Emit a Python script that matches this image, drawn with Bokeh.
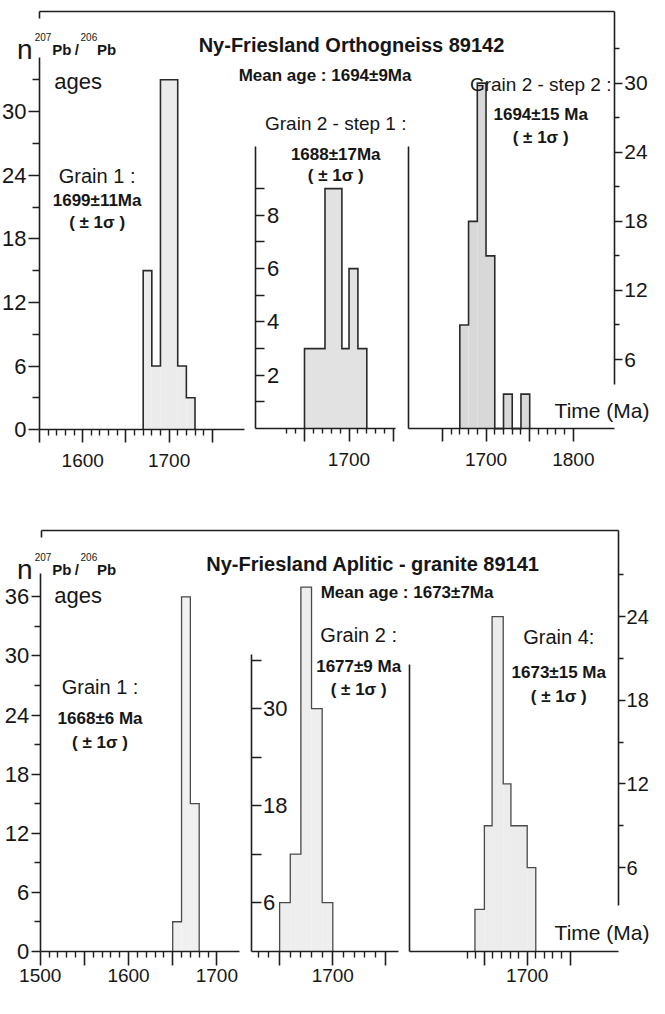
from bokeh.plotting import figure
from bokeh.models import Range1d, LinearAxis, FixedTicker, Label
from bokeh.embed import file_html
from bokeh.resources import INLINE

# ===================== data =====================
# --- Ny-Friesland Orthogneiss 89142 (upper panel) ---
top_title = "Ny-Friesland  Orthogneiss 89142"
top_mean = "Mean age :  1694±9Ma"
top_g1_edges = [1670, 1680, 1690, 1710, 1720, 1730]
top_g1_counts = [15, 6, 33, 6, 3]
top_s1_edges = [1650, 1673, 1692, 1700, 1710, 1720]
top_s1_counts = [3, 9, 3, 6, 3]
top_s2_edges = [1670, 1680, 1690, 1700, 1710, 1720, 1730, 1740, 1750]
top_s2_counts = [9, 18, 30, 15, 0, 3, 0, 3]
top_names = ["Grain 1 :", "Grain 2 - step 1 :", "Grain 2 - step 2 :"]
top_ages = ["1699±11Ma", "1688±17Ma", "1694±15 Ma"]

# --- Ny-Friesland Aplitic - granite 89141 (lower panel) ---
bot_title = "Ny-Friesland  Aplitic - granite 89141"
bot_mean = "Mean age :  1673±7Ma"
bot_g1_edges = [1650, 1660, 1670, 1680]
bot_g1_counts = [3, 36, 15]
bot_g2_edges = [1650, 1660, 1670, 1680, 1690, 1700]
bot_g2_counts = [6, 12, 45, 30, 6]
bot_g4_edges = [1639, 1650, 1659, 1672, 1681, 1700, 1710]
bot_g4_counts = [3, 9, 24, 12, 9, 6]
bot_names = ["Grain 1 :", "Grain 2 :", "Grain 4:"]
bot_ages = ["1668±6 Ma", "1677±9 Ma", "1673±15 Ma"]

sigma_text = "( ± 1σ )"
time_label = "Time (Ma)"
ylabel_parts = ["n", "207", "Pb", "/", "206", "Pb"]
ylabel_word = "ages"

# --- ticks ---
def minors(lo, hi, step=10, skip=50):
    return [v for v in range(lo, hi + 1, step) if v % skip]

top_g1_yticks = [0, 6, 12, 18, 24, 30]
top_g1_yminor = [3, 9, 15, 21, 27, 33]
top_g1_xticks = [1550, 1600, 1650, 1700, 1750]
top_g1_xlabels = [1600, 1700]
top_g1_xminor = minors(1560, 1740)
top_s1_yticks = [2, 4, 6, 8]
top_s1_yminor = [1, 3, 5, 7, 9]
top_s1_xticks = [1650, 1700, 1750]
top_s1_xlabels = [1700]
top_s1_xminor = minors(1630, 1740)
top_s2_yticks = [6, 12, 18, 24, 30]
top_s2_yminor = [9, 15, 21, 27, 33]
top_s2_xticks = [1650, 1700, 1750, 1800]
top_s2_xlabels = [1700, 1800]
top_s2_xminor = minors(1660, 1790)

bot_g1_yticks = [0, 6, 12, 18, 24, 30, 36]
bot_g1_yminor = [3, 9, 15, 21, 27, 33]
bot_g1_xticks = [1500, 1550, 1600, 1650, 1700]
bot_g1_xlabels = [1500, 1600, 1700]
bot_g1_xminor = minors(1510, 1690)
bot_g2_yticks = [6, 18, 30]
bot_g2_yminor = [12, 24, 36]
bot_g2_xticks = [1650, 1700, 1750]
bot_g2_xlabels = [1700]
bot_g2_xminor = minors(1630, 1740)
bot_g4_yticks = [6, 12, 18, 24]
bot_g4_yminor = [9, 15, 21, 27]
bot_g4_xticks = [1650, 1700, 1750]
bot_g4_xlabels = [1700]
bot_g4_xminor = minors(1630, 1740)

# ===================== layout =====================
W, H = 649, 998           # canvas
PW, PH = 665.0, 1014.0    # reference picture coordinates mapped onto the canvas

FONT = "Liberation Sans, Arial, sans-serif"
TXT = "#161616"
AXC = "#1e1e1e"

# per histogram: (ref value, picture x of it, px per Ma, picture y of zero, px per count)
MAP = {
    "t1": (1550, 40.0, 0.885, 436.0, 10.77),
    "t2": (1650, 311.5, 0.912, 435.0, 27.1),
    "t3": (1700, 497.5, 0.895, 435.0, 11.7),
    "b1": (1500, 40.7, 0.905, 966.0, 10.0),
    "b2": (1700, 340.5, 1.09, 966.0, 8.22),
    "b3": (1700, 539.7, 0.878, 966.0, 14.17),
}


def ix(k, rx):
    v0, x0, b, _, _ = MAP[k]
    return v0 + (rx - x0) / b


def iy(k, ry):
    _, _, _, y0, d = MAP[k]
    return (y0 - ry) / d


p = figure(width=W, height=H, x_range=Range1d(0, PW), y_range=Range1d(PH, 0),
           x_axis_type=None, y_axis_type=None, toolbar_location=None,
           output_backend="svg", min_border=0, outline_line_color=None, title=None)
p.background_fill_color = "white"
p.border_fill_color = "white"

p.extra_x_ranges = {k: Range1d(ix(k, 0), ix(k, PW)) for k in MAP}
p.extra_y_ranges = {k: Range1d(iy(k, PH), iy(k, 0)) for k in MAP}


def hist(k, edges, counts, fill, line, lw):
    p.quad(left=edges[:-1], right=edges[1:], bottom=[0] * len(counts), top=counts,
           x_range_name=k, y_range_name=k, fill_color=fill, line_color=None)
    xs, ys = [edges[0]], [0]
    for i, c in enumerate(counts):
        xs += [edges[i], edges[i + 1]]
        ys += [c, c]
    xs.append(edges[-1])
    ys.append(0)
    p.line(xs, ys, x_range_name=k, y_range_name=k, line_color=line,
           line_width=lw, line_join="miter")


hist("t1", top_g1_edges, top_g1_counts, "#ebebeb", "#2a2a2a", 1.6)
hist("t2", top_s1_edges, top_s1_counts, "#e2e2e2", "#2a2a2a", 1.6)
hist("t3", top_s2_edges, top_s2_counts, "#d8d8d8", "#2a2a2a", 1.6)
hist("b1", bot_g1_edges, bot_g1_counts, "#f0f0f0", "#4a4a4a", 1.3)
hist("b2", bot_g2_edges, bot_g2_counts, "#eeeeee", "#4a4a4a", 1.3)
hist("b3", bot_g4_edges, bot_g4_counts, "#ececec", "#4a4a4a", 1.3)


def style(ax, size, tick_out, minor_out, standoff, tick_in=0):
    ax.axis_line_color = AXC
    ax.axis_line_width = 1.6
    ax.major_tick_line_color = AXC
    ax.major_tick_line_width = 1.6
    ax.minor_tick_line_color = AXC
    ax.minor_tick_line_width = 1.4
    ax.major_tick_in = tick_in
    ax.major_tick_out = tick_out
    ax.minor_tick_in = 0
    ax.minor_tick_out = minor_out
    ax.major_label_standoff = standoff
    ax.major_label_text_font = FONT
    ax.major_label_text_font_size = f"{size}px"
    ax.major_label_text_color = TXT


def overrides(ticks, labels):
    return {t: (str(t) if t in labels else "") for t in ticks}


def xaxis(k, ticks, minor, labels, rx0, rx1, size, tout, mout, standoff):
    ax = LinearAxis(x_range_name=k, y_range_name=k, fixed_location=0,
                    bounds=(ix(k, rx0), ix(k, rx1)),
                    ticker=FixedTicker(ticks=ticks, minor_ticks=minor),
                    major_label_overrides=overrides(ticks, labels))
    style(ax, size, tout, mout, standoff)
    p.add_layout(ax, "below")


def yaxis(k, side, rx_at, ry_top, ry_bot, ticks, minor, labels, size, tout, mout, standoff):
    ax = LinearAxis(x_range_name=k, y_range_name=k, fixed_location=ix(k, rx_at),
                    bounds=(iy(k, ry_bot), iy(k, ry_top)),
                    ticker=FixedTicker(ticks=ticks, minor_ticks=minor),
                    major_label_overrides=overrides(ticks, labels))
    style(ax, size, tout, mout, standoff)
    p.add_layout(ax, side)


def frame_top(ry, rx0, rx1):
    ax = LinearAxis(fixed_location=ry, bounds=(rx0, rx1),
                    ticker=FixedTicker(ticks=[rx0], minor_ticks=[]),
                    major_label_overrides={rx0: ""})
    style(ax, 10, 0, 0, 0, tick_in=7)
    p.add_layout(ax, "above")


# ---- upper panel axes ----
frame_top(10.8, 40, 629)
xaxis("t1", top_g1_xticks, top_g1_xminor, top_g1_xlabels, 40, 250, 19, 13, 6, 11)
yaxis("t1", "left", 40, 58, 436, top_g1_yticks, top_g1_yminor, top_g1_yticks, 22, 11, 7, 2)
xaxis("t2", top_s1_xticks, top_s1_xminor, top_s1_xlabels, 261.7, 405, 19, 13, 5, 11)
yaxis("t2", "right", 261.7, 148, 435, top_s1_yticks, top_s1_yminor, top_s1_yticks, 22, 9, 9, 2)
xaxis("t3", top_s2_xticks, top_s2_xminor, top_s2_xlabels, 418, 629, 19, 13, 6, 11)
yaxis("t3", "left", 418, 148, 435, [], [], [], 10, 0, 0, 0)
yaxis("t3", "right", 629, 10.8, 390, top_s2_yticks, top_s2_yminor, top_s2_yticks, 21, 8, 5, 2)

# ---- lower panel axes ----
frame_top(538.3, 41.7, 633.3)
xaxis("b1", bot_g1_xticks, bot_g1_xminor, bot_g1_xlabels, 40.7, 245, 19, 14, 6, 4)
yaxis("b1", "left", 40.7, 582, 966, bot_g1_yticks, bot_g1_yminor, bot_g1_yticks, 22, 9, 6, 2)
xaxis("b2", bot_g2_xticks, bot_g2_xminor, bot_g2_xlabels, 256.7, 408, 19, 14, 6, 4)
yaxis("b2", "right", 256.7, 664, 966, bot_g2_yticks, bot_g2_yminor, bot_g2_yticks, 22, 10, 10, 2)
xaxis("b3", bot_g4_xticks, bot_g4_xminor, bot_g4_xlabels, 419.3, 633.3, 19, 14, 7, 4)
yaxis("b3", "left", 419.3, 675, 966, [], [], [], 10, 0, 0, 0)
yaxis("b3", "right", 633.3, 538.3, 920, bot_g4_yticks, bot_g4_yminor, bot_g4_yticks, 20, 7, 5, 1)


# ---- texts ----
def lab(rx, ry, text, size, bold=False, align="center"):
    p.add_layout(Label(x=rx, y=ry, text=text, text_font=FONT,
                       text_font_size=f"{size}px",
                       text_font_style="bold" if bold else "normal",
                       text_align=align, text_baseline="alphabetic",
                       text_color=TXT))


def ylab(base):
    lab(17, base, ylabel_parts[0], 28, False, "left")
    lab(35, base - 13, ylabel_parts[1], 10, False, "left")
    lab(53, base, ylabel_parts[2], 15, True, "left")
    lab(76, base, ylabel_parts[3], 15, True, "left")
    lab(82, base - 13, ylabel_parts[4], 10, False, "left")
    lab(99, base, ylabel_parts[5], 15, True, "left")


# upper panel
ylab(50)
lab(55, 82, ylabel_word, 22, False, "left")
lab(362.5, 45, top_title, 20, True)
lab(335, 76, top_mean, 17, True)
for (cx, y1, y2, y3, fs), name, age in zip(
        [(99, 178, 203, 226, 20), (343.5, 125, 156, 178, 19), (553.5, 85, 116, 139, 19)],
        top_names, top_ages):
    lab(cx, y1, name, fs)
    lab(cx, y2, age, 17, True)
    lab(cx, y3, sigma_text, 17, True)
lab(665, 417, time_label, 21, False, "right")

# lower panel
ylab(578)
lab(55, 605, ylabel_word, 22, False, "left")
lab(384.5, 573, bot_title, 20, True)
lab(419, 601, bot_mean, 17, True)
for (cx, y1, y2, y3), name, age in zip(
        [(102, 697, 730, 754), (367, 645, 677, 700), (572, 647, 683, 707)],
        bot_names, bot_ages):
    lab(cx, y1, name, 20)
    lab(cx, y2, age, 17, True)
    lab(cx, y3, sigma_text, 17, True)
lab(665, 947, time_label, 21, False, "right")

open("out.html", "w").write(file_html(p, INLINE))
